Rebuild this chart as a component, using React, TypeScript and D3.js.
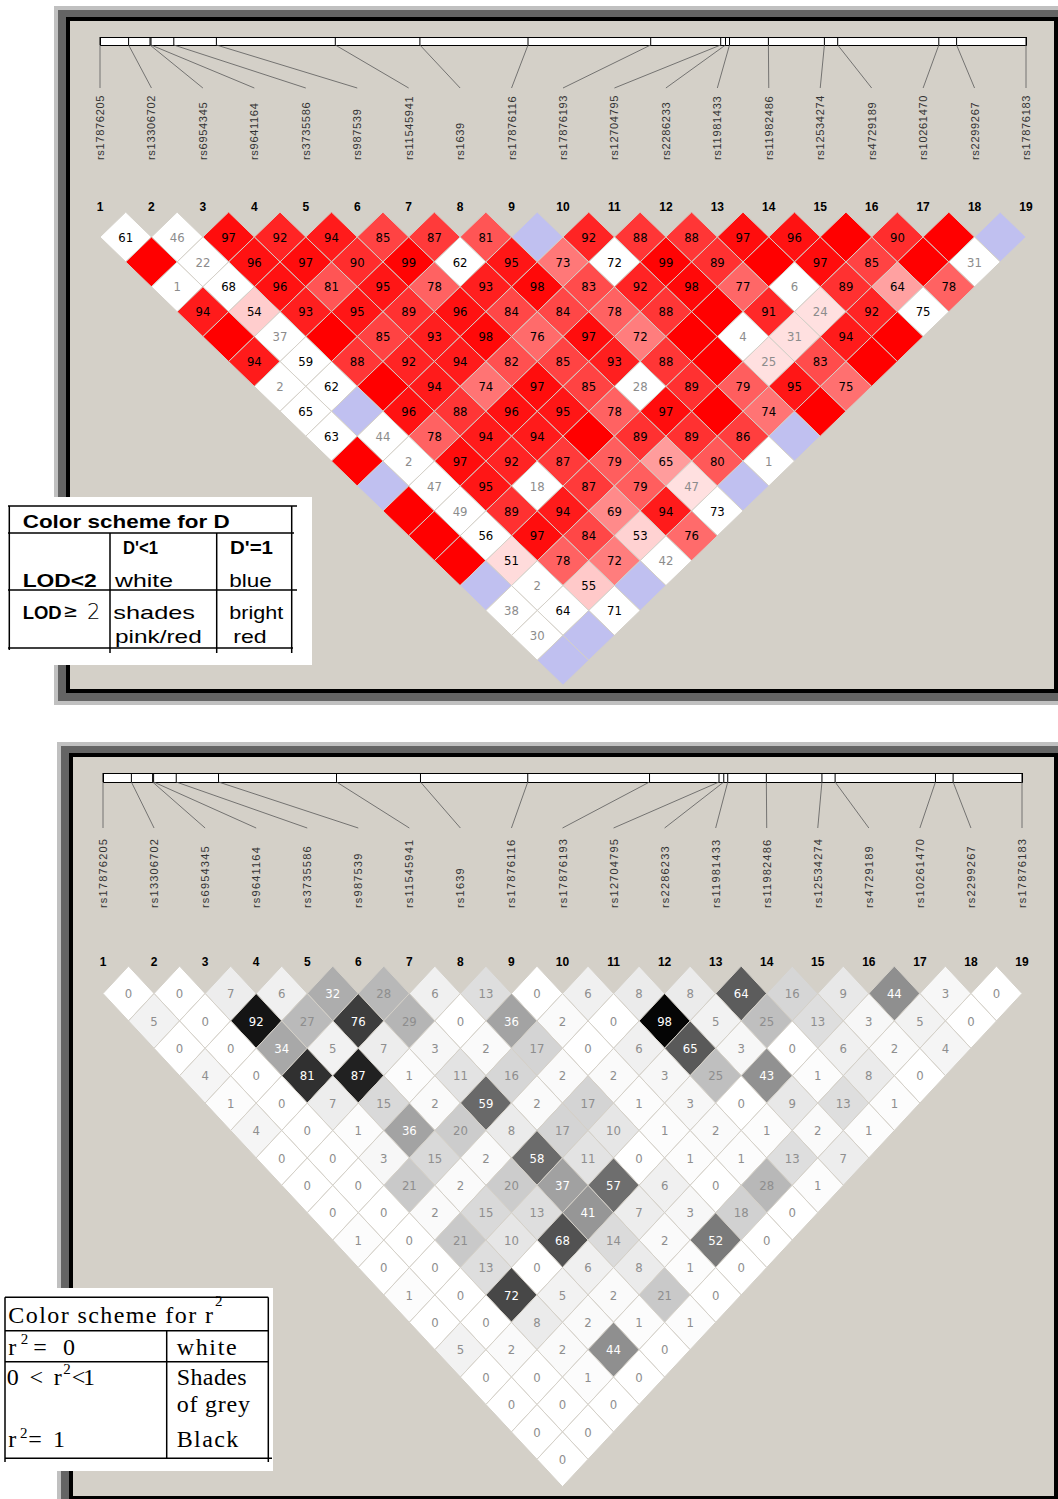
import React from "react";
import * as d3 from "d3";

// ---------- DATA ----------
const snpNames = [
  "rs17876205", "rs13306702", "rs6954345", "rs9641164", "rs3735586", "rs987539",
  "rs11545941", "rs1639", "rs17876116", "rs17876193", "rs12704795", "rs2286233",
  "rs11981433", "rs11982486", "rs12534274", "rs4729189", "rs10261470", "rs2299267", "rs17876183",
];
const markerNumbers = snpNames.map((_, i) => String(i + 1));
// relative physical position of each SNP along the gene track
const snpPos = [0, 28.6, 50, 51, 73.8, 116.4, 235.3, 319.9, 428, 550.7, 620.7, 625.5, 629.5, 668.4, 724.4, 737.7, 838.8, 856.6, 926];
const posMax = 926;

// D' x100 per diagonal (distance 1..18); 100 = D'=1 (no number shown)
const dPrimeRows = [
  [61, 46, 97, 92, 94, 85, 87, 81, 100, 92, 88, 88, 97, 96, 100, 90, 100, 100],
  [100, 22, 96, 97, 90, 99, 62, 95, 73, 72, 99, 89, 100, 97, 85, 100, 31],
  [1, 68, 96, 81, 95, 78, 93, 98, 83, 92, 98, 77, 6, 89, 64, 78],
  [94, 54, 93, 95, 89, 96, 84, 84, 78, 88, 100, 91, 24, 92, 75],
  [100, 37, 100, 85, 93, 98, 76, 97, 72, 100, 4, 31, 94, 100],
  [94, 59, 88, 92, 94, 82, 85, 93, 88, 100, 25, 83, 100],
  [2, 62, 100, 94, 74, 97, 85, 28, 89, 79, 95, 75],
  [65, 100, 96, 88, 96, 95, 78, 97, 100, 74, 100],
  [63, 44, 78, 94, 94, 100, 89, 89, 86, 100],
  [100, 2, 97, 92, 87, 79, 65, 80, 1],
  [100, 47, 95, 18, 87, 79, 47, 100],
  [100, 49, 89, 94, 69, 94, 73],
  [100, 56, 97, 84, 53, 76],
  [100, 51, 78, 72, 42],
  [100, 2, 55, 100],
  [38, 64, 71],
  [30, 100],
  [100],
];
// 1 = LOD < 2
const lowLodRows = [
  [1, 1, 0, 0, 0, 0, 0, 0, 1, 0, 0, 0, 0, 0, 0, 0, 0, 1],
  [0, 1, 0, 0, 0, 0, 1, 0, 0, 1, 0, 0, 0, 0, 0, 0, 1],
  [1, 1, 0, 0, 0, 0, 0, 0, 0, 0, 0, 0, 1, 0, 0, 0],
  [0, 0, 0, 0, 0, 0, 0, 0, 0, 0, 0, 0, 0, 0, 1],
  [0, 1, 0, 0, 0, 0, 0, 0, 0, 0, 1, 0, 0, 0],
  [0, 1, 0, 0, 0, 0, 0, 0, 0, 0, 0, 0, 0],
  [1, 1, 0, 0, 0, 0, 0, 1, 0, 0, 0, 0],
  [1, 1, 0, 0, 0, 0, 0, 0, 0, 0, 0],
  [1, 1, 0, 0, 0, 0, 0, 0, 0, 1],
  [0, 1, 0, 0, 0, 0, 0, 0, 1],
  [1, 1, 0, 1, 0, 0, 0, 1],
  [0, 1, 0, 0, 0, 0, 1],
  [0, 1, 0, 0, 0, 0],
  [0, 0, 0, 0, 1],
  [1, 1, 0, 1],
  [1, 1, 1],
  [1, 1],
  [1],
];
// r^2 x100 per diagonal
const r2Rows = [
  [0, 0, 7, 6, 32, 28, 6, 13, 0, 6, 8, 8, 64, 16, 9, 44, 3, 0],
  [5, 0, 92, 27, 76, 29, 0, 36, 2, 0, 98, 5, 25, 13, 3, 5, 0],
  [0, 0, 34, 5, 7, 3, 2, 17, 0, 6, 65, 3, 0, 6, 2, 4],
  [4, 0, 81, 87, 1, 11, 16, 2, 2, 3, 25, 43, 1, 8, 0],
  [1, 0, 7, 15, 2, 59, 2, 17, 1, 3, 0, 9, 13, 1],
  [4, 0, 1, 36, 20, 8, 17, 10, 1, 2, 1, 2, 1],
  [0, 0, 3, 15, 2, 58, 11, 0, 1, 1, 13, 7],
  [0, 0, 21, 2, 20, 37, 57, 6, 0, 28, 1],
  [0, 0, 2, 15, 13, 41, 7, 3, 18, 0],
  [1, 0, 21, 10, 68, 14, 2, 52, 0],
  [0, 0, 13, 0, 6, 8, 1, 0],
  [1, 0, 72, 5, 2, 21, 0],
  [0, 0, 8, 2, 1, 1],
  [5, 2, 2, 44, 0],
  [0, 0, 1, 0],
  [0, 0, 0],
  [0, 0],
  [0],
];

// ---------- LAYOUT ----------
const W = 1058;
const H = 1499;
const BG = "#d4d0c8";

const topCfg = {
  x1: 100, xN: 1026, barTop: 37, barBot: 45, lineEnd: 88, labelBase: 160,
  numY: 211, row0: 237, rowStep: 24.9, labelSpacing: 0.7,
};
const botCfg = {
  x1: 103, xN: 1022, barTop: 773, barBot: 782, lineEnd: 828, labelBase: 908,
  numY: 966, row0: 993.5, rowStep: 27.4, labelSpacing: 1.2,
};

function dpColor(v: number, low: number) {
  if (low) return v >= 100 ? "rgb(192,192,240)" : "#ffffff";
  if (v >= 100) return "rgb(255,0,0)";
  if (v < 50) return "rgb(255,224,224)";
  const b = Math.round(223 * 2 * (1 - v / 100));
  return `rgb(255,${b},${b})`;
}
function r2Color(v: number) {
  const g = Math.round(255 - 255 * (v / 100));
  return `rgb(${g},${g},${g})`;
}

function LDPlot({ cfg, kind }: { cfg: typeof topCfg; kind: "d" | "r" }) {
  const n = snpNames.length;
  const x = d3.scaleLinear().domain([1, n]).range([cfg.x1, cfg.xN]);
  const pos = d3.scaleLinear().domain([0, posMax]).range([cfg.x1, cfg.xN]);
  const y = d3.scaleLinear().domain([1, 2]).range([cfg.row0, cfg.row0 + cfg.rowStep]);
  const hw = (x(2) - x(1)) / 2;
  const hh = cfg.rowStep;
  const line = d3.line<[number, number]>();
  const rows = kind === "d" ? dPrimeRows : r2Rows;

  const cells: any[] = [];
  rows.forEach((row, k) => {
    const dist = k + 1;
    row.forEach((v, idx) => {
      const i = idx + 1;
      const j = i + dist;
      const cx = (x(i) + x(j)) / 2;
      const cy = y(dist);
      const path = line([[cx, cy - hh], [cx + hw, cy], [cx, cy + hh], [cx - hw, cy]]) + "Z";
      let fill: string, label: string | null, tcol: string;
      if (kind === "d") {
        const low = lowLodRows[k][idx];
        fill = dpColor(v, low);
        label = v >= 100 ? null : String(v);
        tcol = v >= 50 ? "#000" : "#8c8c8c";
      } else {
        fill = r2Color(v);
        label = String(v);
        tcol = v >= 30 ? "#ffffff" : "#8e8e8e";
      }
      cells.push({ key: `${i}-${j}`, path, fill, label, tcol, cx, cy });
    });
  });

  return (
    <g>
      {/* gene track */}
      <rect x={cfg.x1} y={cfg.barTop} width={cfg.xN - cfg.x1} height={cfg.barBot - cfg.barTop}
        fill="#fff" stroke="#000" strokeWidth={1} shapeRendering="crispEdges" />
      {snpPos.map((p, k) => (
        <g key={"t" + k}>
          <line x1={pos(p)} x2={pos(p)} y1={cfg.barTop} y2={cfg.barBot} stroke="#000" strokeWidth={1} />
          <line x1={pos(p)} y1={cfg.barBot} x2={x(k + 1)} y2={cfg.lineEnd} stroke="#5a5a5a" strokeWidth={0.8} />
        </g>
      ))}
      {snpNames.map((s, k) => (
        <text key={"l" + k} transform={`translate(${x(k + 1) + 4},${cfg.labelBase}) rotate(-90)`}
          fontSize={11} letterSpacing={cfg.labelSpacing} fill="#333">{s}</text>
      ))}
      {markerNumbers.map((s, k) => (
        <text key={"n" + k} x={x(k + 1)} y={cfg.numY} textAnchor="middle" fontSize={12}
          fontWeight="bold" fill="#000">{s}</text>
      ))}
      {cells.map((c) => (
        <path key={"c" + c.key} d={c.path} fill={c.fill} stroke={BG} strokeWidth={1} />
      ))}
      {cells.map((c) =>
        c.label === null ? null : (
          <text key={"v" + c.key} x={c.cx} y={c.cy} dy="0.36em" textAnchor="middle"
            fontSize={13} fontFamily="'Liberation Sans Narrow', 'DejaVu Sans Condensed', Arial, sans-serif"
            fill={c.tcol}>{c.label}</text>
        )
      )}
    </g>
  );
}

function Frame({ x, y, bottom }: { x: number; y: number; bottom: number }) {
  return (
    <g shapeRendering="crispEdges">
      <rect x={x} y={y} width={W - x} height={bottom - y} fill="#c0c0c0" />
      <rect x={x + 4} y={y + 4} width={W - x - 4} height={bottom - y - 8} fill="#646464" />
      <rect x={x + 12} y={y + 11} width={W - x - 12} height={bottom - y - 23} fill="#000" />
      <rect x={x + 16} y={y + 15} width={W - x - 20} height={bottom - y - 31} fill={BG} />
    </g>
  );
}

function T({ x, y, w, s, size, bold, serif, adj }: any) {
  return (
    <text x={x} y={y} textLength={w} lengthAdjust={adj || "spacingAndGlyphs"} fontSize={size}
      fontWeight={bold ? "bold" : "normal"}
      fontFamily={serif ? "'Liberation Serif', 'Times New Roman', serif" : "'Liberation Sans', Arial, sans-serif"}
      fill="#000">{s}</text>
  );
}

function TopLegend() {
  const L = (x1: number, y1: number, x2: number, y2: number) => (
    <line x1={x1} y1={y1} x2={x2} y2={y2} stroke="#000" strokeWidth={1.5} />
  );
  return (
    <g>
      <rect x={0} y={497} width={312} height={168} fill="#fff" />
      {L(8, 506, 297, 506)}
      {L(8, 533, 294, 533)}
      {L(8, 590, 297, 590)}
      {L(8, 648, 293, 648)}
      {L(9.3, 506, 9.3, 650)}
      {L(110, 533, 110, 653)}
      {L(216.7, 533, 216.7, 653)}
      {L(291.7, 506, 291.7, 653)}
      <T x={22.7} y={527.5} w={207} s="Color scheme for D" size={19} bold />
      <T x={123} y={553.5} w={35} s="D'<1" size={19} bold />
      <T x={230} y={553.5} w={43} s="D'=1" size={19} bold />
      <T x={22.7} y={586.5} w={74} s="LOD<2" size={19} bold />
      <T x={115} y={586.5} w={58} s="white" size={19} />
      <T x={229.3} y={586.5} w={42.5} s="blue" size={19} />
      <T x={22.7} y={619.3} w={39} s="LOD" size={19} bold />
      <text x={63} y={617} fontSize={18} fontFamily="'DejaVu Sans', sans-serif" fill="#000">≥</text>
      <text x={87} y={619.3} fontSize={21} fontFamily="'DejaVu Sans', sans-serif" fontWeight={200} fill="#000">2</text>
      <T x={113.3} y={619.3} w={81.7} s="shades" size={19} />
      <T x={229.3} y={619.3} w={54} s="bright" size={19} />
      <T x={115} y={642.7} w={86.7} s="pink/red" size={19} />
      <T x={233.3} y={642.7} w={33.4} s="red" size={19} />
    </g>
  );
}

function BottomLegend() {
  const L = (x1: number, y1: number, x2: number, y2: number) => (
    <line x1={x1} y1={y1} x2={x2} y2={y2} stroke="#000" strokeWidth={1.5} />
  );
  const sup = (x: number, y: number) => (
    <text x={x} y={y} fontSize={15} fontFamily="'Liberation Serif', serif" fill="#000">2</text>
  );
  return (
    <g>
      <rect x={0} y={1288} width={273} height={183} fill="#fff" />
      {L(5, 1297.3, 268.3, 1297.3)}
      {L(5, 1330.7, 268.3, 1330.7)}
      {L(5, 1361.7, 268.3, 1361.7)}
      {L(5, 1458.3, 272, 1458.3)}
      {L(5, 1297.3, 5, 1462)}
      {L(166.7, 1330.7, 166.7, 1458.3)}
      {L(268.3, 1297.3, 268.3, 1462)}
      <T x={8.3} y={1323.3} w={204.7} s="Color scheme for r" size={24} serif adj="spacing" />
      {sup(215, 1306)}
      <T x={8.3} y={1355} w={8} s="r" size={24} serif />
      {sup(20.7, 1344)}
      <T x={33.3} y={1355} w={41.7} s="=0" size={24} serif adj="spacing" />
      <T x={176.7} y={1355} w={60} s="white" size={24} serif adj="spacing" />
      <T x={6.7} y={1385} w={55} s="0<r" size={24} serif adj="spacing" />
      {sup(63.3, 1374)}
      <T x={71.7} y={1385} w={23.3} s="<1" size={24} serif adj="spacing" />
      <T x={176.7} y={1385} w={70} s="Shades" size={24} serif adj="spacing" />
      <T x={176.7} y={1411.7} w={73.3} s="of grey" size={24} serif adj="spacing" />
      <T x={8.3} y={1446.7} w={8} s="r" size={24} serif />
      {sup(20, 1437.5)}
      <T x={28.3} y={1446.7} w={36.7} s="=1" size={24} serif adj="spacing" />
      <T x={176.7} y={1446.7} w={61.6} s="Black" size={24} serif adj="spacing" />
    </g>
  );
}

export default function App() {
  return (
    <div style={{ position: "absolute", left: 0, top: 0, width: W, height: H, background: "#fff" }}>
      <svg width={W} height={H} style={{ display: "block" }} fontFamily="'Liberation Sans', Arial, sans-serif">
        <Frame x={54} y={6} bottom={705} />
        <LDPlot cfg={topCfg} kind="d" />
        <Frame x={57} y={742} bottom={1512} />
        <LDPlot cfg={botCfg} kind="r" />
        <TopLegend />
        <BottomLegend />
      </svg>
    </div>
  );
}
